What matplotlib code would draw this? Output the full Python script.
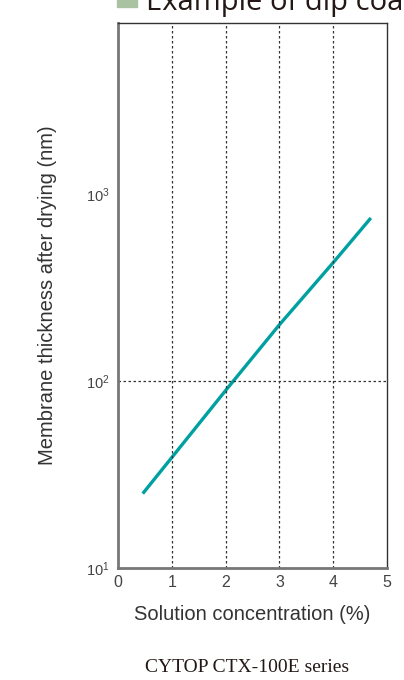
import numpy as np
import matplotlib
matplotlib.use('Agg')
import matplotlib.pyplot as plt
from matplotlib.ticker import FixedLocator, FixedFormatter, NullLocator

plt.rcParams['font.family'] = ['Liberation Sans', 'DejaVu Sans']
plt.rcParams['mathtext.default'] = 'regular'

# data
conc = [0.46, 1.0, 2.0, 3.0, 4.0, 4.7]
thickness = [25, 39, 89, 200, 430, 745]

x_ticks = [0, 1, 2, 3, 4, 5]
y_ticks = [10, 100, 1000]
y_labels = ['$10^1$', '$10^2$', '$10^3$']

fig = plt.figure(figsize=(4.04, 6.8), dpi=100)
ax = fig.add_axes([118/404, 1 - 568/680, (387-118)/404, (568-23)/680])

ax.plot(conc, thickness, color='#00a0a0', linewidth=2.4, solid_capstyle='butt')

ax.set_yscale('log')
ax.set_xlim(0, 5)
ax.set_ylim(10, 10**3.915)

ax.xaxis.set_major_locator(FixedLocator(x_ticks))
ax.yaxis.set_major_locator(FixedLocator(y_ticks))
ax.yaxis.set_major_formatter(FixedFormatter(y_labels))
ax.yaxis.set_minor_locator(NullLocator())
ax.tick_params(length=0, colors='#444444')
ax.tick_params(axis='x', labelsize=11.5, pad=5)
ax.tick_params(axis='y', labelsize=10.5, pad=6)

# dotted grid lines
for xv in x_ticks[1:-1]:
    ax.axvline(xv, color='#333333', linestyle=(0, (2, 2)), linewidth=0.9)
ax.axhline(100, color='#333333', linestyle=(0, (2, 2)), linewidth=0.9)

for side in ['left', 'bottom']:
    ax.spines[side].set_color('#777777')
    ax.spines[side].set_linewidth(2)
for side in ['top', 'right']:
    ax.spines[side].set_color('#333333')
    ax.spines[side].set_linewidth(1)

ax.set_xlabel('Solution concentration (%)', fontsize=14.5, color='#333333', labelpad=11)
ax.set_ylabel('Membrane thickness after drying (nm)', fontsize=14.5, color='#333333', labelpad=21)

# heading, cut off by the top edge as in the source
fig.patches.append(plt.Rectangle((117/404, 1 - 7/680), 20/404, 12/680,
                                 transform=fig.transFigure, color='#a9c3a2', clip_on=False))
fig.text(146/404, 1 - 10/680, 'Example of dip coating', fontsize=21, color='#231815',
         family=['Open Sans', 'DejaVu Sans'], va='baseline', ha='left')

fig.text(247/404, 1 - 672/680, 'CYTOP CTX-100E series', fontsize=14,
         family=['Liberation Serif', 'DejaVu Serif'], color='#231815', ha='center', va='baseline')

plt.savefig('out.png', dpi=100, facecolor='white')
